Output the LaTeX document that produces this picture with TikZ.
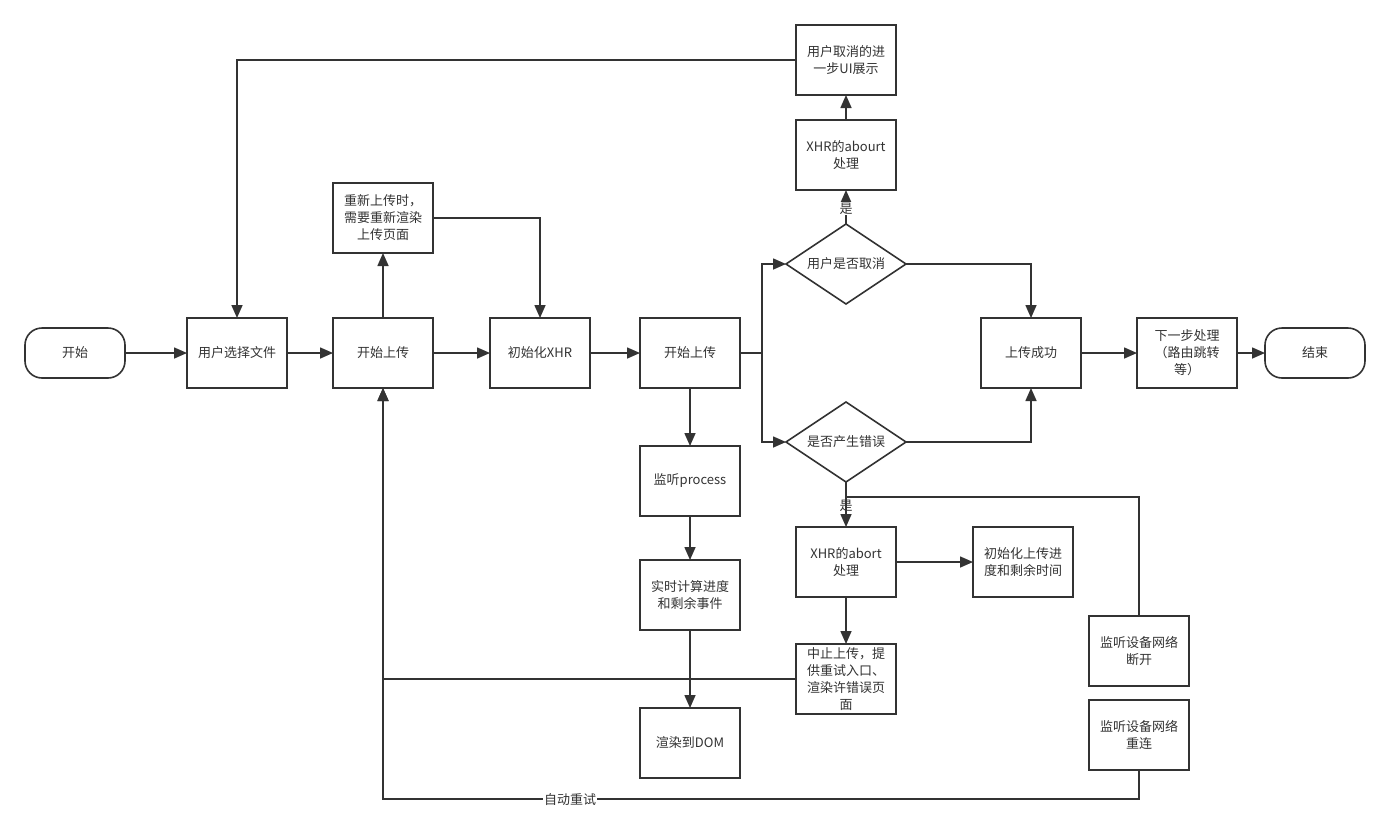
\documentclass[tikz,border=0pt]{standalone}
\usepackage{fontspec}
\setmainfont{Noto Sans CJK SC}
\usetikzlibrary{arrows.meta,shapes.geometric}
\definecolor{ink}{HTML}{333333}
\begin{document}
\begin{tikzpicture}[x=1pt,y=-1pt,
  every node/.style={font=\fontsize{13pt}{17pt}\selectfont, text=ink, align=center, outer sep=0pt},
  box/.style={draw=ink, line width=1.6pt, minimum width=100pt, minimum height=70pt, inner sep=2pt},
  term/.style={draw=ink, line width=1.6pt, minimum width=100pt, minimum height=50pt, rounded corners=17pt},
  dia/.style={draw=ink, line width=1.6pt, diamond, aspect=1.5, minimum width=120pt, minimum height=80pt, inner sep=0pt},
  arr/.style={draw=ink, line width=1.6pt, -{Triangle[length=13pt,width=11pt]}},
  ln/.style={draw=ink, line width=1.6pt},
  lbl/.style={fill=white, inner sep=1pt}
]
\fill[white] (0,0) rectangle (1390,823);
\useasboundingbox (0,0) rectangle (1390,823);

% nodes
\node[term] (start) at (75,353) {开始};
\node[box] (sel) at (237,353) {用户选择文件};
\node[box] (s1) at (383,353) {开始上传};
\node[box] (xhr) at (540,353) {初始化XHR};
\node[box] (s2) at (690,353) {开始上传};
\node[box] (re) at (383,218) {重新上传时，\\需要重新渲染\\上传页面};
\node[box] (proc) at (690,481) {监听process};
\node[box] (calc) at (690,595) {实时计算进度\\和剩余事件};
\node[box] (dom) at (690,743) {渲染到DOM};
\node[dia] (d1) at (846,264) {用户是否取消};
\node[dia] (d2) at (846,442) {是否产生错误};
\node[box] (ab1) at (846,155) {XHR的abourt\\处理};
\node[box] (ui) at (846,60) {用户取消的进\\一步UI展示};
\node[box] (ab2) at (846,562) {XHR的abort\\处理};
\node[box] (init) at (1023,562) {初始化上传进\\度和剩余时间};
\node[box] (stop) at (846,679) {中止上传，提\\供重试入口、\\渲染许错误页\\面};
\node[box] (ok) at (1031,353) {上传成功};
\node[box] (next) at (1187,353) {下一步处理\\（路由跳转\\等）};
\node[term] (end) at (1315,353) {结束};
\node[box] (off) at (1139,651) {监听设备网络\\断开};
\node[box] (on) at (1139,735) {监听设备网络\\重连};
\coordinate (j1) at (846,497);
\coordinate (split) at (762,353);

% connectors
\draw[arr] (start) -- (sel);
\draw[arr] (sel) -- (s1);
\draw[arr] (s1) -- (xhr);
\draw[arr] (xhr) -- (s2);
\draw[arr] (s1) -- (re);
\draw[arr] (re.east) -| (xhr.north);
\draw[arr] (ui.west) -| (sel.north);
\draw[ln] (s2.east) -- (split);
\draw[arr] (split) |- (d1.west);
\draw[arr] (split) |- (d2.west);
\draw[arr] (s2) -- (proc);
\draw[arr] (proc) -- (calc);
\draw[arr] (calc) -- (dom);
\draw[arr] (d1) -- node[lbl, pos=0.45] (yes1) {是} (ab1);
\draw[arr] (ab1) -- (ui);
\draw[arr] (d1.east) -| (ok.north);
\draw[arr] (d2.east) -| (ok.south);
\draw[arr] (ok) -- (next);
\draw[arr] (next) -- (end);
\node[inner sep=0pt] (yes2) at (846,506) {是};
\draw[arr] (d2) -- (ab2);
\draw[ln] (off.north) |- (j1);
\draw[arr] (ab2) -- (init);
\draw[arr] (ab2) -- (stop);
\draw[arr] (stop.west) -| (s1.south);
\coordinate (c1) at (1139,799);
\draw[arr] (on.south) -- (c1) -| (s1.south);
\node[lbl] (retry) at (570,800) {自动重试};
\end{tikzpicture}
\end{document}
